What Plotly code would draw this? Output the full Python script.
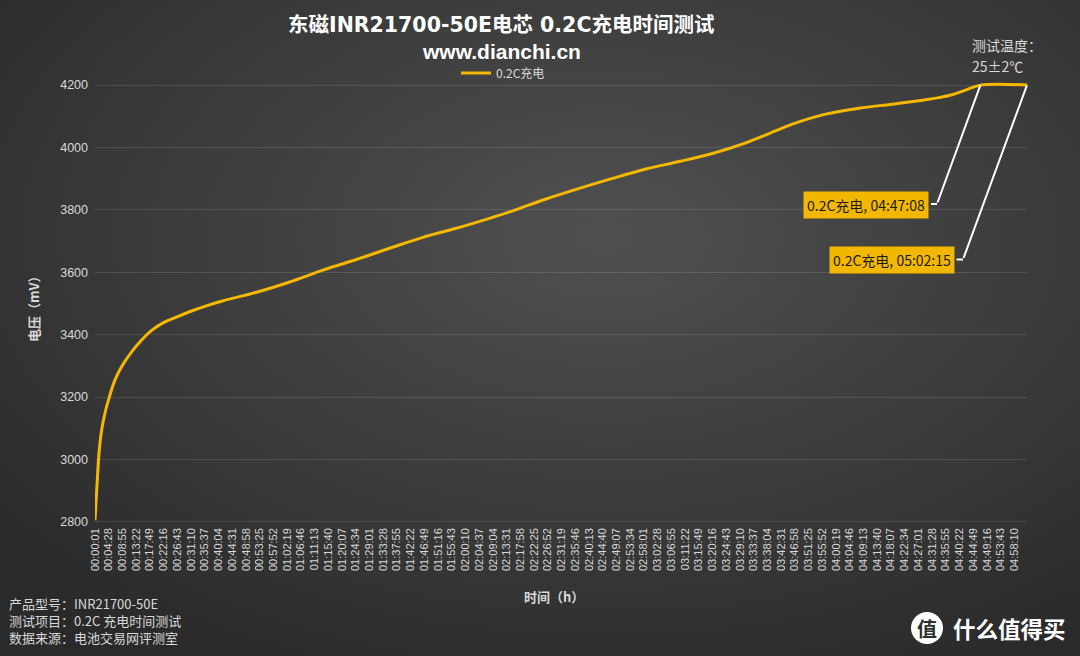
import base64
import plotly.graph_objects as go

# ---------------- data ----------------
time_s = [1, 46, 79, 131, 195, 279, 390, 520, 714, 908, 1103, 1361, 1620, 1880, 2138,
          2494, 3143, 3790, 4437, 5086, 5733, 6380, 7029, 7676,
          8129, 8778, 9425, 10072, 10721, 11368, 12015, 12664, 13311,
          13569, 14218, 14865, 15512, 16161, 16420, 16678, 16938, 17228, 18135]
voltage_mv = [2805, 2935, 3020, 3095, 3149, 3200, 3255, 3298, 3345, 3383, 3414, 3441, 3459, 3476, 3491,
              3509, 3536, 3569, 3607, 3641, 3677, 3712, 3741, 3773,
              3797, 3835, 3869, 3901, 3931, 3955, 3981, 4015, 4058,
              4075, 4107, 4126, 4139, 4153, 4160, 4169, 4184, 4200, 4200]

series_name = "0.2C充电"
callout_times = ["04:47:08", "05:02:15"]

tick_labels = [
    "00:00:01", "00:04:28", "00:08:55", "00:13:22", "00:17:49", "00:22:16", "00:26:43",
    "00:31:10", "00:35:37", "00:40:04", "00:44:31", "00:48:58", "00:53:25", "00:57:52",
    "01:02:19", "01:06:46", "01:11:13", "01:15:40", "01:20:07", "01:24:34", "01:29:01",
    "01:33:28", "01:37:55", "01:42:22", "01:46:49", "01:51:16", "01:55:43",
    "02:00:10", "02:04:37", "02:09:04", "02:13:31", "02:17:58", "02:22:25", "02:26:52",
    "02:31:19", "02:35:46", "02:40:13", "02:44:40", "02:49:07", "02:53:34", "02:58:01",
    "03:02:28", "03:06:55", "03:11:22", "03:15:49", "03:20:16", "03:24:43", "03:29:10",
    "03:33:37", "03:38:04", "03:42:31", "03:46:58", "03:51:25", "03:55:52",
    "04:00:19", "04:04:46", "04:09:13", "04:13:40", "04:18:07", "04:22:34", "04:27:01",
    "04:31:28", "04:35:55", "04:40:22", "04:44:49", "04:49:16", "04:53:43", "04:58:10",
]
y_ticks = [2800, 3000, 3200, 3400, 3600, 3800, 4000, 4200]


def to_sec(s):
    h, m, sec = (int(p) for p in s.split(":"))
    return h * 3600 + m * 60 + sec


tick_vals = [to_sec(t) for t in tick_labels]
callout_secs = [to_sec(t) for t in callout_times]
callout_vals = [voltage_mv[time_s.index(s)] for s in callout_secs]

# ---------------- layout geometry ----------------
W, H = 1080, 656
ML, MR, MT, MB = 95, 53, 82, 131
PW, PH = W - ML - MR, H - MT - MB
X_RANGE = [time_s[0], time_s[-1]]
Y_RANGE = [2790, 4210]


def px(x):  # pixel x -> paper x
    return (x - ML) / PW


def py(y):  # pixel y -> paper y
    return (H - MB - y) / PH


FONT = "Noto Sans CJK SC"
TITLE_FONT = "DejaVu Sans, Noto Sans CJK SC"
SUB_FONT = "Liberation Sans, Noto Sans CJK SC"
LINE = "#F5B800"
TXT = "#d9d9d9"

# background gradient as svg
svg = ("<svg xmlns='http://www.w3.org/2000/svg' width='1080' height='656'>"
       "<defs><radialGradient id='g' cx='0.56' cy='0.36' r='0.74'>"
       "<stop offset='0' stop-color='#505050'/><stop offset='1' stop-color='#2a2a2a'/>"
       "</radialGradient></defs><rect width='1080' height='656' fill='url(#g)'/></svg>")
bg_src = "data:image/svg+xml;base64," + base64.b64encode(svg.encode()).decode()

fig = go.Figure()
fig.add_trace(go.Scatter(
    x=time_s, y=voltage_mv, mode="lines", name=series_name,
    line=dict(color=LINE, width=3, shape="spline", smoothing=1.0),
    hoverinfo="skip",
))

annotations = []
shapes = []

# title, subtitle
annotations.append(dict(text="<b>东磁INR21700-50E电芯 0.2C充电时间测试</b>", xref="paper", yref="paper",
                        x=px(501), y=py(25), xanchor="center", yanchor="middle", showarrow=False,
                        font=dict(family=TITLE_FONT, size=20.5, color="#ffffff")))
annotations.append(dict(text="<b>www.dianchi.cn</b>", xref="paper", yref="paper",
                        x=px(501), y=py(52), xanchor="center", yanchor="middle", showarrow=False,
                        font=dict(family=SUB_FONT, size=21, color="#ffffff")))

# axis titles
annotations.append(dict(text="<b>电压（mV）</b>", xref="paper", yref="paper", x=px(33), y=py(306),
                        xanchor="center", yanchor="middle", showarrow=False, textangle=-90,
                        font=dict(family=FONT, size=13, color=TXT)))
annotations.append(dict(text="<b>时间（h）</b>", xref="paper", yref="paper", x=px(554), y=py(596),
                        xanchor="center", yanchor="middle", showarrow=False,
                        font=dict(family=FONT, size=13, color=TXT)))

# temperature note
annotations.append(dict(text="测试温度：", xref="paper", yref="paper", x=px(970), y=py(45),
                        xanchor="left", yanchor="middle", showarrow=False,
                        font=dict(family=FONT, size=14, color=TXT)))
annotations.append(dict(text="25±2℃", xref="paper", yref="paper", x=px(970), y=py(66),
                        xanchor="left", yanchor="middle", showarrow=False,
                        font=dict(family=FONT, size=14, color=TXT)))

# bottom-left notes
notes = ["产品型号：INR21700-50E", "测试项目：0.2C 充电时间测试", "数据来源：电池交易网评测室"]
for i, n in enumerate(notes):
    annotations.append(dict(text=n, xref="paper", yref="paper", x=px(7), y=py(603 + 17 * i),
                            xanchor="left", yanchor="middle", showarrow=False,
                            font=dict(family=FONT, size=13, color=TXT)))

# callouts (box centre px, leader knee px)
callout_boxes = [((865.5, 205), (931, 937, 204)), ((892, 259.5), (956.5, 963, 259.5))]
for (sec, val, label), ((bx, by), (sx0, sx1, sy)) in zip(
        zip(callout_secs, callout_vals, callout_times), callout_boxes):
    annotations.append(dict(text=f"{series_name}, {label}", xref="paper", yref="paper",
                            x=px(bx), y=py(by), xanchor="center", yanchor="middle", showarrow=False,
                            bgcolor="#F2B700", borderpad=3,
                            font=dict(family=FONT, size=14, color="#1a1a1a")))
    pt_x = ML + (sec - X_RANGE[0]) / (X_RANGE[1] - X_RANGE[0]) * PW
    pt_y = MT + (Y_RANGE[1] - val) / (Y_RANGE[1] - Y_RANGE[0]) * PH
    annotations.append(dict(text="", x=sec, y=val, xref="x", yref="y", showarrow=True,
                            ax=sx1 - pt_x, ay=sy - pt_y, arrowhead=0, arrowwidth=2,
                            arrowcolor="#ffffff", standoff=0, startstandoff=0))
    shapes.append(dict(type="line", xref="paper", yref="paper", x0=px(sx0), x1=px(sx1),
                       y0=py(sy), y1=py(sy), line=dict(color="#ffffff", width=2)))

# watermark
shapes.append(dict(type="circle", xref="paper", yref="paper", x0=px(911), x1=px(943),
                   y0=py(644), y1=py(612), fillcolor="#ffffff", line=dict(width=0)))
annotations.append(dict(text="<b>值</b>", xref="paper", yref="paper", x=px(927), y=py(628),
                        xanchor="center", yanchor="middle", showarrow=False,
                        font=dict(family=FONT, size=20, color="#2e2e2e")))
annotations.append(dict(text="<b>什么值得买</b>", xref="paper", yref="paper", x=px(951), y=py(628),
                        xanchor="left", yanchor="middle", showarrow=False,
                        font=dict(family=FONT, size=22.5, color="#ffffff")))

fig.update_layout(
    width=W, height=H,
    margin=dict(l=ML, r=MR, t=MT, b=MB, autoexpand=False),
    paper_bgcolor="#3a3a3a", plot_bgcolor="rgba(0,0,0,0)",
    images=[dict(source=bg_src, xref="paper", yref="paper", x=-ML / PW, y=1 + MT / PH,
                 sizex=W / PW, sizey=H / PH, xanchor="left", yanchor="top",
                 sizing="stretch", layer="below")],
    showlegend=True,
    legend=dict(orientation="h", x=px(503), y=py(73), xanchor="center", yanchor="middle",
                font=dict(family=FONT, size=12, color=TXT), bgcolor="rgba(0,0,0,0)",
                itemwidth=30),
    xaxis=dict(range=X_RANGE, tickmode="array", tickvals=tick_vals, ticktext=tick_labels,
               tickangle=-90, showgrid=False, zeroline=False, showline=False, ticks="",
               tickfont=dict(family="Liberation Sans", size=11, color=TXT)),
    yaxis=dict(range=Y_RANGE, tickmode="array", tickvals=y_ticks, showgrid=True,
               gridcolor="rgba(255,255,255,0.12)", gridwidth=1, zeroline=False,
               showline=False, ticks="", ticklabelstandoff=6,
               tickfont=dict(family="Liberation Sans", size=12.5, color=TXT)),
    annotations=annotations, shapes=shapes,
)

fig.write_html("out.html", config={"displayModeBar": False},
               post_script="document.body.style.margin='0px';document.body.style.padding='0px';"
                           "document.body.style.background='#2a2a2a';")
